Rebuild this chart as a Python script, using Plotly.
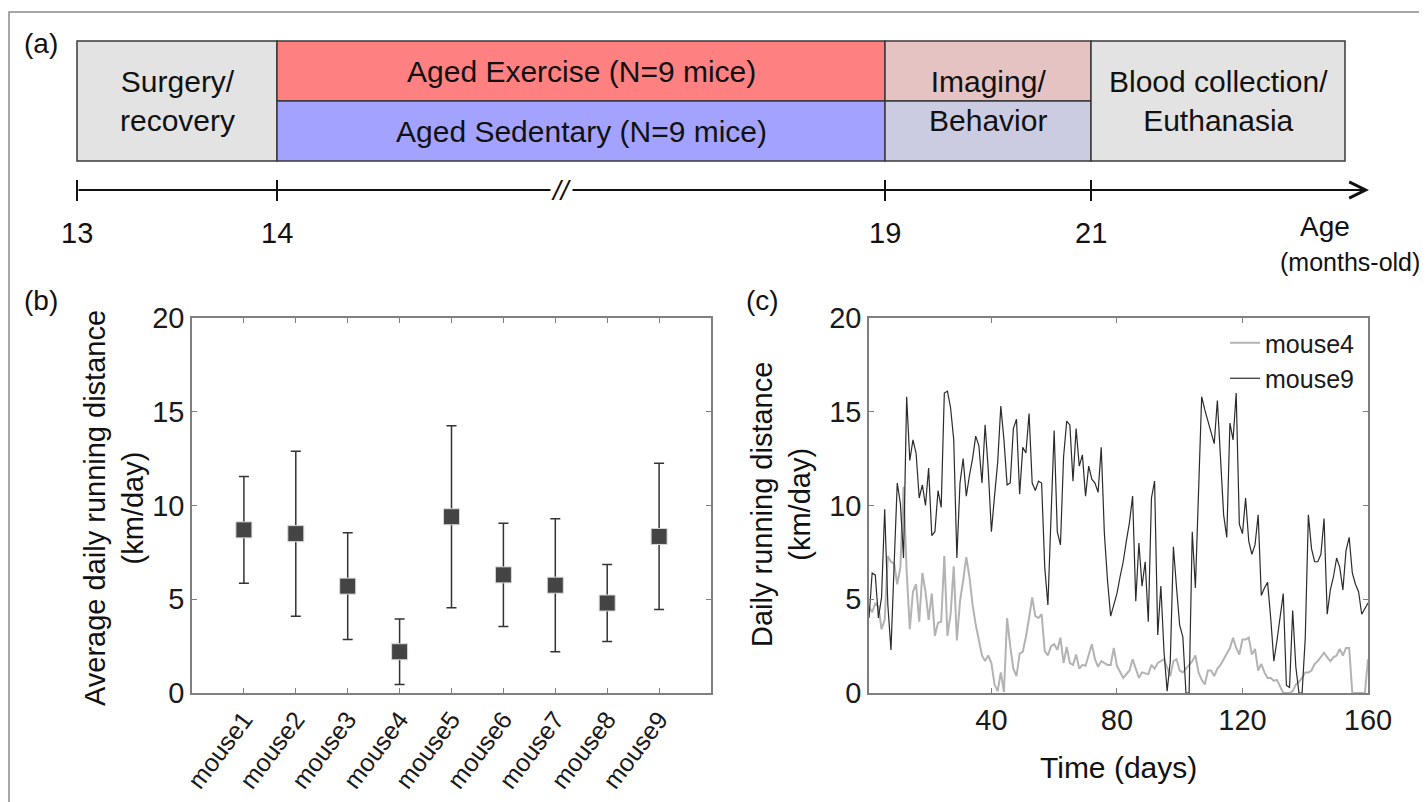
import plotly.graph_objects as go

W, H = 1427, 802          # browser window
OFF = 8                   # default body margin of the html page
FW, FH = W - OFF, H - OFF # figure size so that it fits the window
FONT = "Liberation Sans"

# ---------------- (a) study timeline ----------------
age_labels = ["13", "14", "19", "21"]
age_pos = [0.0, 1.0, 4.04, 5.07]          # position along the broken age axis
axis_end = 6.46

phase_text = ["Surgery/<br>recovery", "Aged Exercise (N=9 mice)", "Aged Sedentary (N=9 mice)",
              "", "", "Blood collection/<br>Euthanasia"]
phase_x0 = [0.0, 1.0, 1.0, 4.04, 4.04, 5.07]
phase_x1 = [1.0, 4.04, 4.04, 5.07, 5.07, 6.34]
phase_y0 = [0, 1, 0, 1, 0, 0]
phase_y1 = [2, 2, 1, 2, 1, 2]
phase_fill = ["#e3e3e3", "#ff8080", "#a3a3ff", "#e5c3c3", "#cbcbe2", "#e3e3e3"]

# ---------------- (b) average daily running distance ----------------
mice = ["mouse1", "mouse2", "mouse3", "mouse4", "mouse5", "mouse6", "mouse7", "mouse8", "mouse9"]
avg_dist = [8.7, 8.5, 5.7, 2.2, 9.4, 6.3, 5.75, 4.8, 8.35]
sd_dist = [2.85, 4.4, 2.85, 1.75, 4.85, 2.75, 3.55, 2.05, 3.9]

# ---------------- (c) daily running distance ----------------
days = list(range(1, 161))
mouse4 = [4.6, 4.3, 4.8, 4.6, 3.4, 3.9, 7.3, 7.0, 6.9, 5.8,
          6.7, 11.0, 6.5, 3.4, 5.4, 5.8, 3.8, 6.4, 5.4, 3.9,
          5.3, 3.05, 3.75, 3.8, 7.3, 3.05, 4.2, 6.75, 2.8, 4.9,
          6.0, 7.25, 6.2, 4.7, 3.65, 2.8, 2.0, 1.7, 2.0, 1.6,
          0.45, 0.1, 1.1, 0.05, 4.0, 2.5, 1.3, 0.9, 2.1, 2.2,
          3.0, 4.0, 5.1, 4.1, 4.0, 4.2, 2.25, 2.0, 2.5, 2.6,
          2.3, 2.95, 1.6, 2.45, 1.6, 1.5, 2.05, 1.3, 1.5, 1.45,
          2.0, 2.6, 1.8, 1.4, 1.7, 1.6, 1.5, 1.5, 2.4, 1.45,
          1.1, 0.8, 1.0, 1.2, 1.8, 1.3, 0.8, 1.1, 1.05, 1.0,
          1.5, 1.3, 1.6, 1.7, 1.8, 1.35, 0.9, 1.7, 1.8, 1.2,
          1.1, 1.3, 1.5, 1.7, 2.0, 1.1, 0.7, 0.45, 1.2, 1.2,
          0.9, 1.3, 1.5, 1.8, 2.1, 2.4, 2.95, 2.4, 2.05, 2.85,
          2.85, 2.95, 2.05, 2.35, 1.2, 1.55, 1.1, 0.8, 0.8, 0.65,
          0.7, 0.3, 0.0, 0.0, 0.0, 0.1, 0.45, 0.6, 0.8, 1.1,
          1.1, 1.2, 1.55, 1.7, 1.9, 2.15, 1.9, 1.7, 1.9, 2.0,
          2.35, 2.0, 2.4, 2.4, 0.0, 0.0, 0.0, 0.0, 0.0, 1.8]
mouse9 = [4.0, 6.4, 6.3, 4.0, 5.1, 9.8, 4.7, 2.3, 6.8, 11.2,
          10.1, 7.2, 15.8, 12.4, 13.5, 12.8, 10.4, 11.1, 10.0, 12.0,
          8.4, 8.6, 10.8, 9.9, 16.0, 16.1, 15.2, 13.5, 7.2, 11.2,
          12.5, 10.5, 11.6, 12.5, 13.7, 13.2, 11.2, 14.3, 11.9, 8.6,
          10.5, 12.3, 15.3, 13.5, 11.1, 11.2, 14.1, 14.6, 10.6, 13.1,
          12.8, 14.9, 11.2, 10.8, 11.3, 11.2, 6.7, 4.7, 9.4, 14.0,
          8.6, 7.9, 12.6, 14.5, 14.3, 11.3, 14.1, 12.1, 12.7, 10.5,
          12.1, 11.4, 11.2, 10.7, 13.1, 8.5, 6.0, 4.1, 4.7, 5.3,
          6.2, 7.0, 8.1, 9.1, 10.5, 4.9, 8.0, 5.7, 7.0, 3.8,
          10.4, 11.3, 3.1, 5.7, 2.2, 0.1, 1.7, 7.8, 5.6, 3.6,
          3.0, 0.0, 0.0, 8.6, 5.6, 10.5, 15.8, 15.1, 14.5, 13.9,
          13.3, 15.6, 12.4, 9.5, 8.3, 14.4, 13.5, 16.0, 9.0, 8.5,
          10.4, 8.1, 7.4, 7.9, 9.5, 5.2, 5.6, 5.9, 4.0, 1.7,
          2.8, 4.2, 5.3, 0.4, 0.3, 4.4, 1.4, 0.0, 0.0, 2.9,
          9.5, 7.7, 7.0, 7.0, 7.4, 9.3, 4.2, 5.5, 6.2, 7.2,
          6.7, 5.5, 7.6, 8.3, 6.4, 5.8, 5.4, 4.2, 4.5, 4.8]


# window pixel -> paper fraction
def px(x):
    return (x - OFF) / FW


def py(y):
    return 1 - (y - OFF) / FH


fig = go.Figure()

# panel (b)
fig.add_trace(go.Scatter(
    x=list(range(1, len(mice) + 1)), y=avg_dist, mode="markers",
    marker=dict(symbol="square", size=16, color="#444444", line=dict(color="#d8d8d8", width=1)),
    error_y=dict(type="data", array=sd_dist, color="#333333", thickness=1.5, width=5),
    showlegend=False, xaxis="x", yaxis="y",
))

# panel (c)
fig.add_trace(go.Scatter(x=days, y=mouse4, mode="lines", name="mouse4",
                         line=dict(color="#b3b3b3", width=2), xaxis="x2", yaxis="y2"))
fig.add_trace(go.Scatter(x=days, y=mouse9, mode="lines", name="mouse9",
                         line=dict(color="#2b2b2b", width=1.2), xaxis="x2", yaxis="y2"))

axis_common = dict(showgrid=False, zeroline=False, showline=True, linecolor="#7f7f7f", linewidth=1.5,
                   mirror="ticks", ticks="inside", ticklen=5, tickcolor="#7f7f7f", automargin=False,
                   tickfont=dict(family=FONT, size=29, color="#1a1a1a"))
cat_axis = dict(axis_common, tickfont=dict(family=FONT, size=25, color="#1a1a1a"))

fig.update_layout(
    template="none",
    width=FW, height=FH,
    margin=dict(l=0, r=0, t=0, b=0, pad=0),
    paper_bgcolor="white", plot_bgcolor="rgba(0,0,0,0)",
    font=dict(family=FONT, color="#1a1a1a"),
    xaxis=dict(domain=[px(192), px(711)], range=[0, 10], anchor="y", tickmode="array",
               tickvals=list(range(1, len(mice) + 1)), ticktext=mice, tickangle=-53, **cat_axis),
    yaxis=dict(domain=[py(693), py(318)], range=[0, 20], anchor="x", tickvals=[0, 5, 10, 15, 20],
               **axis_common),
    xaxis2=dict(domain=[px(869), px(1368)], range=[1, 160], anchor="y2", tickvals=[40, 80, 120, 160],
                **axis_common),
    yaxis2=dict(domain=[py(693), py(318)], range=[0, 20], anchor="x2", tickvals=[0, 5, 10, 15, 20],
                **axis_common),
    # schematic axes for the timeline of panel (a)
    xaxis3=dict(domain=[0, 1], range=[(OFF - 77) / 200, (W - 77) / 200], anchor="y3",
                visible=False, fixedrange=True),
    yaxis3=dict(domain=[0, 1], range=[(161 - H) / 60, (161 - OFF) / 60], anchor="x3",
                visible=False, fixedrange=True),
    legend=dict(x=px(1360), xanchor="right", y=py(320), yanchor="top", bgcolor="rgba(0,0,0,0)",
                font=dict(family=FONT, size=25, color="#1a1a1a"), itemwidth=30, tracegroupgap=0),
)

shapes = []
annotations = []

# phase boxes
for x0, x1, y0, y1, c in zip(phase_x0, phase_x1, phase_y0, phase_y1, phase_fill):
    shapes.append(dict(type="rect", xref="x3", yref="y3", x0=x0, x1=x1, y0=y0, y1=y1,
                       fillcolor=c, line=dict(color="#3a3a3a", width=1.5), layer="below"))
text_x = [(phase_x0[0] + phase_x1[0]) / 2, (phase_x0[1] + phase_x1[1]) / 2,
          (phase_x0[2] + phase_x1[2]) / 2, (phase_x0[5] + phase_x1[5]) / 2]
text_y = [1, 1.5, 0.5, 1]
for tx, ty, t in zip(text_x, text_y, [phase_text[0], phase_text[1], phase_text[2], phase_text[5]]):
    annotations.append(dict(xref="x3", yref="y3", x=tx, y=ty, text=t, showarrow=False,
                            font=dict(family=FONT, size=30, color="#111111")))
annotations.append(dict(xref="x3", yref="y3", x=(phase_x0[3] + phase_x1[3]) / 2, y=1,
                        text="Imaging/<br>Behavior", showarrow=False,
                        font=dict(family=FONT, size=30, color="#111111")))

# age axis with arrow
tl_y = (161 - 190) / 60
annotations.append(dict(xref="x3", yref="y3", axref="x3", ayref="y3", x=axis_end, y=tl_y,
                        ax=age_pos[0], ay=tl_y, text="", showarrow=True, arrowhead=5,
                        arrowsize=1.6, arrowwidth=2, arrowcolor="#111111", standoff=0))
for p, lab in zip(age_pos, age_labels):
    shapes.append(dict(type="line", xref="x3", yref="y3", x0=p, x1=p,
                       y0=(161 - 180) / 60, y1=(161 - 201) / 60, line=dict(color="#111111", width=2)))
    annotations.append(dict(xref="x3", yref="y3", x=p, y=(161 - 233) / 60, text=lab, showarrow=False,
                            font=dict(family=FONT, size=29, color="#111111")))
annotations.append(dict(xref="x3", yref="y3", x=2.42, y=tl_y, text="<i>//</i>", showarrow=False,
                        bgcolor="white", borderpad=0, font=dict(family=FONT, size=28, color="#111111")))
annotations.append(dict(xref="x3", yref="y3", x=6.24, y=(161 - 226) / 60, text="Age", showarrow=False,
                        font=dict(family=FONT, size=28, color="#111111")))
annotations.append(dict(xref="paper", yref="y3", x=px(1422), xanchor="right", y=(161 - 262) / 60,
                        text="(months-old)", showarrow=False,
                        font=dict(family=FONT, size=25, color="#111111")))

# panel letters
for lx, ly, t in [(41, 44, "(a)"), (41, 300, "(b)"), (762, 300, "(c)")]:
    annotations.append(dict(xref="paper", yref="paper", x=px(lx), y=py(ly), text=t, showarrow=False,
                            xanchor="center", yanchor="middle",
                            font=dict(family=FONT, size=28, color="#111111")))

# axis titles
annotations.append(dict(xref="paper", yref="paper", x=px(114), y=py(508), textangle=-90,
                        xanchor="center", yanchor="middle",
                        text="Average daily running distance<br>(km/day)", showarrow=False,
                        font=dict(family=FONT, size=29, color="#111111")))
annotations.append(dict(xref="paper", yref="paper", x=px(781), y=py(505), textangle=-90,
                        xanchor="center", yanchor="middle",
                        text="Daily running distance<br>(km/day)", showarrow=False,
                        font=dict(family=FONT, size=29, color="#111111")))
annotations.append(dict(xref="paper", yref="paper", x=px(1118), y=py(767), text="Time (days)",
                        xanchor="center", yanchor="middle",
                        showarrow=False, font=dict(family=FONT, size=30, color="#111111")))

# outer frame
shapes.append(dict(type="rect", xref="paper", yref="paper", x0=px(9), x1=1.02, y0=-0.02, y1=py(12),
                   line=dict(color="#8a8a8a", width=1.5)))

fig.update_layout(shapes=shapes, annotations=annotations)
fig.write_html("out.html")
